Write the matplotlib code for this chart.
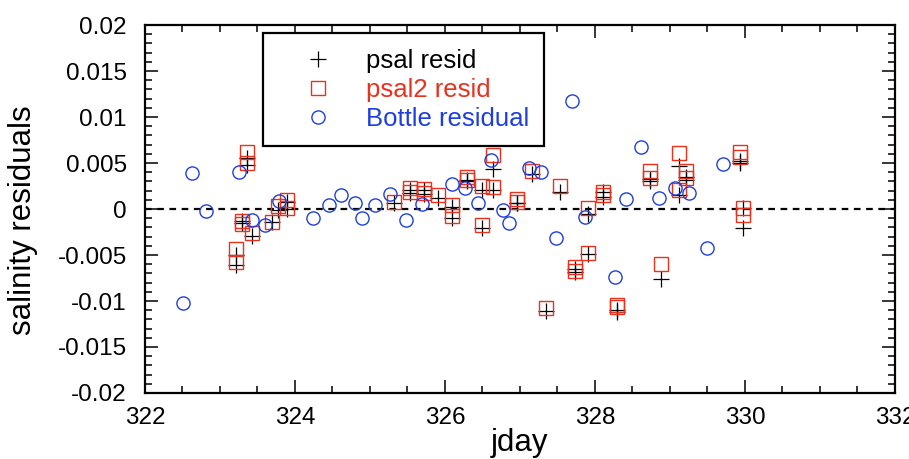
import matplotlib
matplotlib.use('Agg')
from matplotlib import pyplot as plt
from matplotlib.ticker import MultipleLocator, FormatStrFormatter

plt.rcParams['font.family'] = ['Liberation Sans', 'DejaVu Sans']

# psal / psal2 residuals at the same sample times
jday = [323.21, 323.21, 323.30, 323.30, 323.36, 323.36, 323.43, 323.70, 323.78,
        323.89, 323.89, 325.32, 325.53, 325.53, 325.72, 325.72, 325.91, 326.10,
        326.10, 326.30, 326.30, 326.49, 326.49, 326.64, 326.64, 326.96, 326.96,
        327.16, 327.35, 327.53, 327.73, 327.73, 327.91, 327.91, 328.11, 328.11,
        328.29, 328.29, 328.73, 328.73, 328.88, 329.12, 329.12, 329.21, 329.21,
        329.93, 329.93, 329.98, 329.98]
psal = [-0.0050, -0.0061, -0.0013, -0.0015, 0.0055, 0.0048, -0.0029, -0.0014, -0.0001,
        0.0008, 0.0000, 0.0007, 0.0021, 0.0017, 0.0021, 0.0016, 0.0012, 0.0002,
        -0.0010, 0.0032, 0.0030, 0.0021, -0.0021, 0.0044, 0.0021, 0.0007, 0.0006,
        0.0038, -0.0111, 0.0018, -0.0065, -0.0068, -0.0005, -0.0049, 0.0018, 0.0013,
        -0.0110, -0.0112, 0.0033, 0.0030, -0.0076, 0.0047, 0.0015, 0.0035, 0.0032,
        0.0052, 0.0050, 0.0001, -0.0021]
psal2 = [-0.0043, -0.0058, -0.0013, -0.0016, 0.0062, 0.0050, -0.0026, -0.0014, 0.0003,
         0.0010, 0.0001, 0.0008, 0.0023, 0.0018, 0.0022, 0.0017, 0.0015, 0.0004,
         -0.0008, 0.0035, 0.0031, 0.0025, -0.0017, 0.0059, 0.0024, 0.0011, 0.0008,
         0.0041, -0.0108, 0.0025, -0.0063, -0.0067, 0.0001, -0.0048, 0.0019, 0.0015,
         -0.0104, -0.0106, 0.0041, 0.0034, -0.0060, 0.0061, 0.0021, 0.0041, 0.0034,
         0.0062, 0.0057, 0.0001, -0.0006]

# bottle residuals
bot_jday = [322.51, 322.63, 322.82, 323.26, 323.43, 323.60, 323.79, 324.24, 324.45,
            324.62, 324.80, 324.90, 325.07, 325.27, 325.48, 325.70, 326.10, 326.27,
            326.44, 326.61, 326.78, 326.86, 327.12, 327.28, 327.48, 327.70, 327.87,
            328.27, 328.42, 328.61, 328.86, 329.07, 329.26, 329.50, 329.71]
bottle = [-0.0102, 0.0039, -0.0002, 0.0040, -0.0012, -0.0017, 0.0009, -0.0010, 0.0004,
          0.0015, 0.0007, -0.0010, 0.0004, 0.0016, -0.0012, 0.0005, 0.0027, 0.0023,
          0.0006, 0.0053, -0.0001, -0.0015, 0.0045, 0.0040, -0.0032, 0.0117, -0.0009,
          -0.0074, 0.0011, 0.0067, 0.0012, 0.0023, 0.0017, -0.0042, 0.0049]

red = '#e8321e'
blue = '#1f3fdc'

fig = plt.figure(figsize=(9.09, 4.59), dpi=100)
ax = fig.add_axes([0.1595, 0.1438, 0.825, 0.8017])

ax.axhline(0, color='k', ls=(0, (3, 2.5)), lw=1.6, zorder=1)
ax.plot(jday, psal, '+', color='k', ms=11, mew=0.9, label='psal resid')
ax.plot(jday, psal2, 's', mfc='none', mec=red, ms=9.5, mew=1.0, label='psal2 resid')
ax.plot(bot_jday, bottle, 'o', mfc='none', mec=blue, ms=9.5, mew=1.0, label='Bottle residual')

ax.set_xlim(322, 332)
ax.set_ylim(-0.02, 0.02)
ax.xaxis.set_major_locator(MultipleLocator(2))
ax.xaxis.set_minor_locator(MultipleLocator(0.5))
ax.yaxis.set_major_locator(MultipleLocator(0.005))
ax.yaxis.set_minor_locator(MultipleLocator(0.001))
ax.yaxis.set_major_formatter(FormatStrFormatter('%g'))
ax.tick_params(which='both', direction='in', top=True, right=True, width=1.1, labelsize=17.5)
ax.tick_params(which='major', length=9.5)
ax.tick_params(which='minor', length=5.2)
ax.tick_params(axis='x', which='major', pad=10)
ax.tick_params(axis='y', which='major', pad=13)
for s in ax.spines.values():
    s.set_linewidth(1.6)

ax.set_xlabel('jday', fontsize=22.5)
ax.set_ylabel('salinity residuals', fontsize=22.5)
ax.xaxis.set_label_coords(0.5, -0.095)
ax.yaxis.set_label_coords(-0.143, 0.47)

leg = ax.legend(loc='upper left', bbox_to_anchor=(0.157, 0.9775), fancybox=False,
                edgecolor='k', fontsize=18.5, handlelength=3.1, handletextpad=0.3,
                borderpad=0.6, labelspacing=0.2, borderaxespad=0, framealpha=1)
leg.get_frame().set_linewidth(1.6)
for t, c in zip(leg.get_texts(), ['k', red, blue]):
    t.set_color(c)

fig.savefig('out.png', dpi=100)
